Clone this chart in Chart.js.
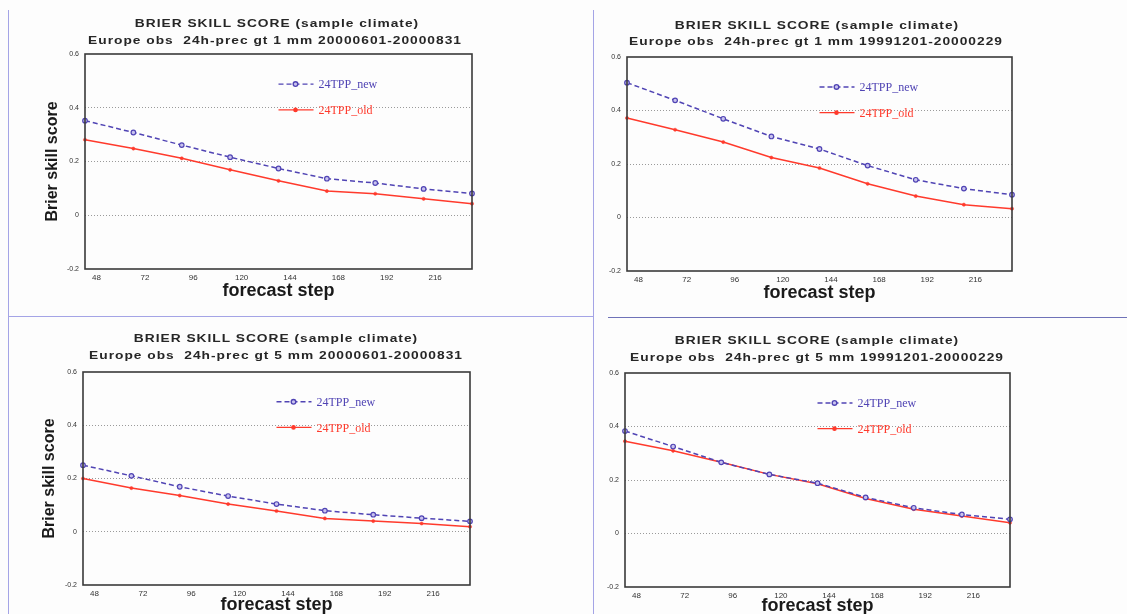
<!DOCTYPE html>
<html>
<head>
<meta charset="utf-8">
<script src="https://cdn.jsdelivr.net/npm/chart.js@4.4.0/dist/chart.umd.min.js"></script>
<style>
  body { margin: 0; width: 1127px; height: 614px; overflow: hidden; background: #fdfdfd; position: relative; font-family: "Liberation Sans", Arial, sans-serif; }
  .panel { position: absolute; }
  .ttl { position: absolute; white-space: nowrap; font-weight: bold; font-size: 11px; color: #262626; letter-spacing: 0.8px; transform: translateX(-50%) scaleX(1.25); transform-origin: center; line-height: 13px; }
  .rule { position: absolute; background: #a4a4e6; }
</style>
</head>
<body>

<div class="rule" style="left:8px;top:10px;width:1px;height:604px"></div>
<div class="rule" style="left:593px;top:10px;width:1px;height:604px"></div>
<div class="rule" style="left:8px;top:316px;width:585px;height:1px"></div>
<div class="rule" style="left:608px;top:317px;width:519px;height:1px;background:#6f72b8"></div>

<canvas id="c1" class="panel" style="left:0;top:0"></canvas>
<canvas id="c2" class="panel" style="left:560px;top:0"></canvas>
<canvas id="c3" class="panel" style="left:0;top:310px"></canvas>
<canvas id="c4" class="panel" style="left:560px;top:310px"></canvas>

<div class="ttl" style="left:277px;top:17px">BRIER SKILL SCORE (sample climate)</div>
<div class="ttl" style="left:275px;top:34px">Europe obs&nbsp; 24h-prec gt 1 mm 20000601-20000831</div>
<div class="ttl" style="left:817px;top:19px">BRIER SKILL SCORE (sample climate)</div>
<div class="ttl" style="left:816px;top:35px">Europe obs&nbsp; 24h-prec gt 1 mm 19991201-20000229</div>
<div class="ttl" style="left:276px;top:332px">BRIER SKILL SCORE (sample climate)</div>
<div class="ttl" style="left:276px;top:349px">Europe obs&nbsp; 24h-prec gt 5 mm 20000601-20000831</div>
<div class="ttl" style="left:817px;top:334px">BRIER SKILL SCORE (sample climate)</div>
<div class="ttl" style="left:817px;top:351px">Europe obs&nbsp; 24h-prec gt 5 mm 19991201-20000229</div>

<script>
// forecast steps (hours)
const steps = [48, 72, 96, 120, 144, 168, 192, 216, 240];
const yTicks = [-0.2, 0, 0.2, 0.4, 0.6];

// gt 1 mm, summer 2000
const newSummer1 = [0.352, 0.308, 0.261, 0.216, 0.174, 0.136, 0.120, 0.098, 0.081];
const oldSummer1 = [0.281, 0.248, 0.212, 0.169, 0.128, 0.090, 0.080, 0.061, 0.043];
// gt 1 mm, winter 99/00
const newWinter1 = [0.504, 0.438, 0.369, 0.303, 0.256, 0.194, 0.141, 0.108, 0.085];
const oldWinter1 = [0.372, 0.328, 0.282, 0.224, 0.185, 0.126, 0.080, 0.048, 0.033];
// gt 5 mm, summer 2000
const newSummer5 = [0.250, 0.210, 0.169, 0.134, 0.104, 0.079, 0.064, 0.051, 0.039];
const oldSummer5 = [0.200, 0.164, 0.136, 0.104, 0.078, 0.050, 0.040, 0.031, 0.019];
// gt 5 mm, winter 99/00
const newWinter5 = [0.383, 0.325, 0.266, 0.221, 0.188, 0.135, 0.096, 0.071, 0.053];
const oldWinter5 = [0.345, 0.309, 0.266, 0.221, 0.186, 0.131, 0.091, 0.065, 0.040];

const NEW_COL = '#5044b4';
const OLD_COL = '#ff3a2c';

// box round the plot + legend inside it
const boxLegend = {
  id: 'boxLegend',
  afterDraw(chart) {
    const ctx = chart.ctx, a = chart.chartArea;
    ctx.save();
    ctx.strokeStyle = '#3a3a3a';
    ctx.lineWidth = 1.6;
    ctx.strokeRect(a.left, a.top, a.right - a.left, a.bottom - a.top);
    const x0 = a.left + 0.5 * (a.right - a.left);
    const rows = [0.14, 0.26];
    chart.data.datasets.forEach((ds, i) => {
      const y = a.top + rows[i] * (a.bottom - a.top);
      ctx.strokeStyle = ds.borderColor;
      ctx.lineWidth = 1.4;
      ctx.setLineDash(ds.borderDash || []);
      ctx.beginPath(); ctx.moveTo(x0, y); ctx.lineTo(x0 + 35, y); ctx.stroke();
      ctx.setLineDash([]);
      ctx.beginPath(); ctx.arc(x0 + 17, y, ds.pointRadius, 0, Math.PI * 2);
      ctx.fillStyle = ds.pointBackgroundColor; ctx.fill(); ctx.stroke();
      ctx.fillStyle = ds.borderColor;
      ctx.font = '12px "Liberation Serif", "Times New Roman", serif';
      ctx.textBaseline = 'middle';
      ctx.fillText(ds.label, x0 + 40, y + 1);
    });
    ctx.restore();
  }
};

function panel(id, w, h, g, newVals, oldVals) {
  const yLH = 16 * 1.2, xLH = 18 * 1.2;
  const padLeft = g.yTitleX ? g.yTitleX - yLH / 2 : 0;
  const xBottom = g.xTitleY + xLH / 2;
  const cv = document.getElementById(id);
  cv.width = w; cv.height = h;
  cv.style.width = w + 'px'; cv.style.height = h + 'px';
  new Chart(cv.getContext('2d'), {
    type: 'line',
    data: {
      labels: steps,
      datasets: [
        { label: '24TPP_new', data: newVals, borderColor: NEW_COL, borderWidth: 1.5, borderDash: [5, 3],
          pointRadius: 2.3, pointBackgroundColor: '#c9c3ee', pointBorderColor: NEW_COL, pointBorderWidth: 1.2, tension: 0 },
        { label: '24TPP_old', data: oldVals, borderColor: OLD_COL, borderWidth: 1.5,
          pointRadius: 1.6, pointBackgroundColor: OLD_COL, pointBorderColor: OLD_COL, pointBorderWidth: 0.5, tension: 0 }
      ]
    },
    options: {
      responsive: false,
      animation: false,
      layout: { padding: { left: padLeft, top: g.plotT, right: w - g.plotR, bottom: h - xBottom } },
      plugins: { legend: { display: false }, tooltip: { enabled: false } },
      scales: {
        x: {
          type: 'category',
          offset: false,
          grid: { display: false, drawTicks: false },
          border: { display: false },
          afterFit(s) { s.height = xBottom - g.plotB; },
          ticks: {
            autoSkip: false, maxRotation: 0, padding: 4, labelOffset: 11.5,
            color: '#333', font: { size: 8, family: 'Liberation Sans' },
            callback(v, i) { return i < steps.length - 1 ? String(steps[i]) : ''; }
          },
          title: { display: true, text: 'forecast step', color: '#1a1a1a', padding: 0,
                   font: { size: 18, weight: 'bold', family: 'Liberation Sans' } }
        },
        y: {
          min: yTicks[0], max: yTicks[yTicks.length - 1],
          afterBuildTicks(s) { s.ticks = yTicks.map(v => ({ value: v })); },
          afterFit(s) { s.width = g.plotL - padLeft; },
          grid: {
            drawTicks: false,
            color: c => (c.tick.value > -0.2 && c.tick.value < 0.6) ? '#9a9a9a' : 'rgba(0,0,0,0)',
            lineWidth: 1
          },
          border: { display: false, dash: [1, 2] },
          ticks: {
            padding: 6, color: '#333', font: { size: 7, family: 'Liberation Sans' },
            callback: v => String(+v.toFixed(1))
          },
          title: { display: !!g.yTitleX, text: 'Brier skill score', color: '#1a1a1a', padding: 0,
                   font: { size: 16, weight: 'bold', family: 'Liberation Sans' } }
        }
      }
    },
    plugins: [boxLegend]
  });
}

panel('c1', 560, 310, { plotL: 85, plotT: 54, plotR: 472, plotB: 269, yTitleX: 53, xTitleY: 291 }, newSummer1, oldSummer1);
panel('c2', 567, 310, { plotL: 67, plotT: 57, plotR: 452, plotB: 271, yTitleX: 0, xTitleY: 293 }, newWinter1, oldWinter1);
panel('c3', 560, 320, { plotL: 83, plotT: 62, plotR: 470, plotB: 275, yTitleX: 50, xTitleY: 295 }, newSummer5, oldSummer5);
panel('c4', 567, 320, { plotL: 65, plotT: 63, plotR: 450, plotB: 277, yTitleX: 0, xTitleY: 296 }, newWinter5, oldWinter5);
</script>
</body>
</html>
